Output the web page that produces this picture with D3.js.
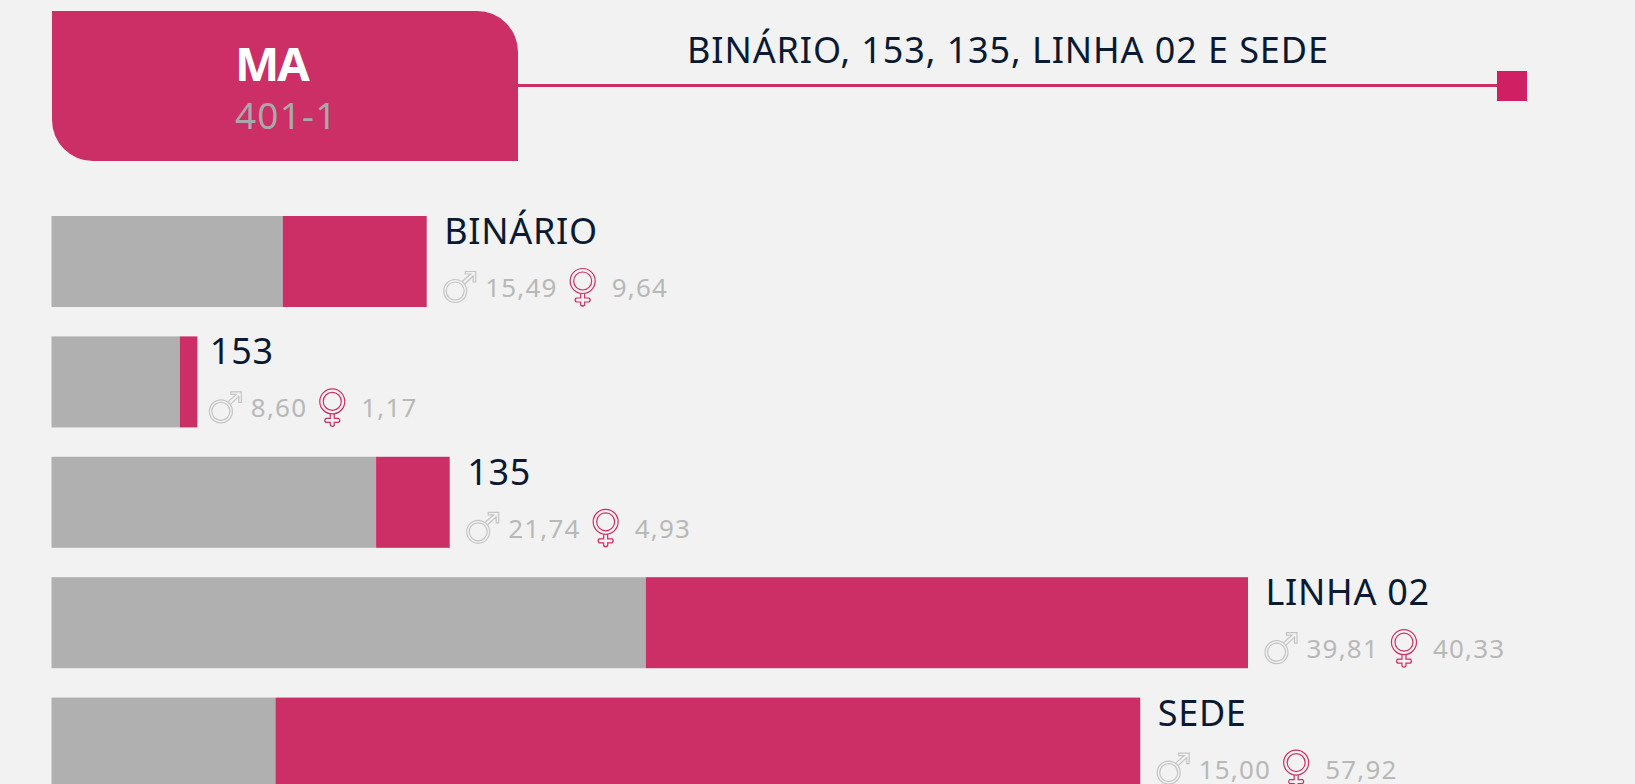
<!DOCTYPE html>
<html>
<head>
<meta charset="utf-8">
<script src="https://cdn.jsdelivr.net/npm/d3@7"></script>
<style>
  html, body { margin: 0; padding: 0; background: #f2f2f2; overflow: hidden; }
  text { font-family: 'Noto Sans', 'Open Sans', sans-serif; }
  .name { fill: #0b1a33; font-size: 36px; letter-spacing: 0.7px; }
  .value { fill: #b8b8b8; font-size: 26px; letter-spacing: 1.2px; }
</style>
</head>
<body>
<svg id="chart" width="1635" height="784"></svg>
<script>
const lines = ['BINÁRIO', '153', '135', 'LINHA 02', 'SEDE'];
const men = [15.49, 8.60, 21.74, 39.81, 15.00];
const women = [9.64, 1.17, 4.93, 40.33, 57.92];
const badgeTitle = 'MA';
const badgeCode = '401-1';
const heading = 'BINÁRIO, 153, 135, LINHA 02 E SEDE';

const pink = '#cc2e66';
const grey = '#b0b0b0';
const fmt = v => v.toFixed(2).replace('.', ',');

const svg = d3.select('#chart');
const x = d3.scaleLinear().domain([0, 80.14]).range([51.5, 1248]);
// the last bar runs off the bottom of the page
const y = d3.scaleBand().domain(lines).range([216, 788.6]).paddingInner(0.244).paddingOuter(0);

// Header badge, only the top right and bottom left corners are rounded
const bx0 = 52, bx1 = 518, by0 = 11, by1 = 161, r = 41;
svg.append('path')
  .attr('fill', pink)
  .attr('d', `M${bx0},${by0}H${bx1 - r}A${r},${r} 0 0 1 ${bx1},${by0 + r}V${by1}H${bx0 + r}A${r},${r} 0 0 1 ${bx0},${by1 - r}Z`);
svg.append('text').text(badgeTitle)
  .attr('x', 235).attr('y', 81)
  .style('font-size', '47px').style('font-weight', 700).style('letter-spacing', '-2px').attr('fill', '#fff');
svg.append('text').text(badgeCode)
  .attr('x', 235).attr('y', 129)
  .style('font-size', '37px').style('letter-spacing', '1.2px').attr('fill', '#a9a9a9');

// Heading and rule
svg.append('text').text(heading)
  .attr('x', 687).attr('y', 63)
  .style('font-size', '36px').style('letter-spacing', '0.9px').attr('fill', '#0b1a33');
svg.append('line')
  .attr('x1', bx1).attr('x2', 1500).attr('y1', 85.5).attr('y2', 85.5)
  .attr('stroke', pink).attr('stroke-width', 3);
svg.append('rect')
  .attr('x', 1497).attr('y', 71).attr('width', 30).attr('height', 30)
  .attr('fill', '#d01f62');

function maleIcon (g, cx, cy) {
  g.append('circle').attr('cx', cx).attr('cy', cy).attr('r', 11.5);
  g.append('circle').attr('cx', cx).attr('cy', cy).attr('r', 9);
  g.append('path').attr('d', `M${cx + 7},${cy - 9.5}L${cx + 15.5},${cy - 17}h-5.5v-2.5h10.5v10.5h-2.5v-6L${cx + 9.5},${cy - 7}`);
}
function femaleIcon (g, cx, cy) {
  g.append('circle').attr('cx', cx).attr('cy', cy).attr('r', 12.5);
  g.append('circle').attr('cx', cx).attr('cy', cy).attr('r', 9);
  g.append('path').attr('d', `M${cx - 2},${cy + 12.5}v4.5h-4.5q-2,2 0,4h4.5v3q2,2 4,0v-3h4.5q2,-2 0,-4h-4.5v-4.5`);
}

const rows = svg.selectAll('.row').data(lines).join('g').attr('class', 'row');
rows.append('rect')
  .attr('x', x(0))
  .attr('y', d => y(d))
  .attr('width', (d, i) => x(men[i]) - x(0))
  .attr('height', y.bandwidth())
  .attr('fill', grey);
rows.append('rect')
  .attr('x', (d, i) => x(men[i]))
  .attr('y', d => y(d))
  .attr('width', (d, i) => x(men[i] + women[i]) - x(men[i]))
  .attr('height', y.bandwidth())
  .attr('fill', pink);

rows.each(function (d, i) {
  const g = d3.select(this);
  // the short 153 bar sits closer to its label
  const left = x(men[i] + women[i]) + (i === 1 ? 12.5 : 17.5);
  const top = y(d);
  g.append('text').attr('class', 'name').text(d).attr('x', left).attr('y', top + 28);
  const male = g.append('g').attr('fill', 'none').attr('stroke', '#c4c4c4').attr('stroke-width', 1.2);
  maleIcon(male, left + 11, top + 75);
  const mv = g.append('text').attr('class', 'value').text(fmt(men[i])).attr('x', left + 41).attr('y', top + 81);
  const fx = left + 41 + mv.node().getComputedTextLength() + 25;
  const female = g.append('g').attr('fill', 'none').attr('stroke', pink).attr('stroke-width', 1.2);
  femaleIcon(female, fx, top + 65);
  g.append('text').attr('class', 'value').text(fmt(women[i])).attr('x', fx + 29).attr('y', top + 81);
});
</script>
</body>
</html>
